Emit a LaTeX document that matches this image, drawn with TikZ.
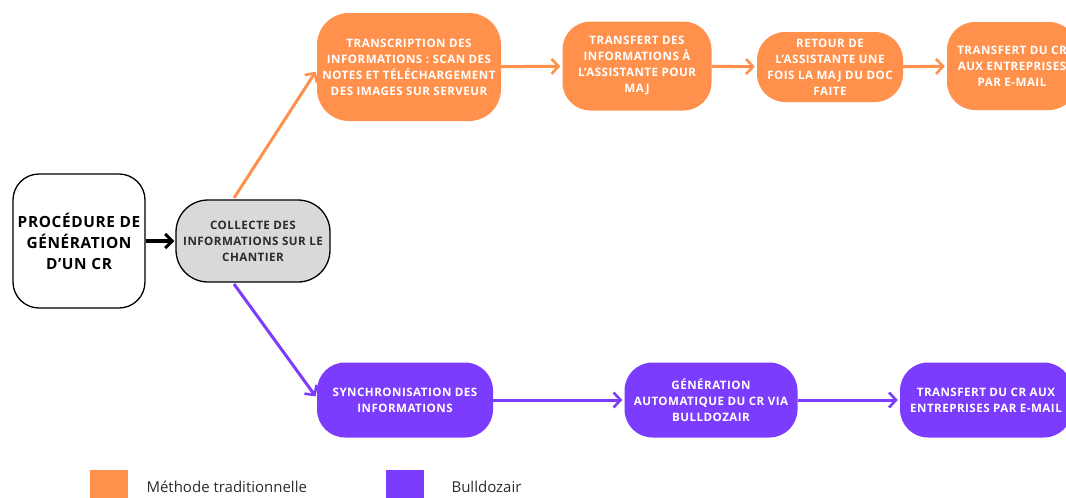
\documentclass[tikz,border=0pt]{standalone}
\usepackage{fontspec}
\setmainfont{Open Sans}
\newfontfamily\boxfont[LetterSpace=4]{Open Sans}
\usepackage{tikz}
\usetikzlibrary{arrows.meta, positioning}

\definecolor{tradorange}{HTML}{FF914D}
\definecolor{bullpurple}{HTML}{7B3CFD}
\definecolor{collectgray}{HTML}{D9D9D9}
\definecolor{darktext}{HTML}{2B2B2B}

\begin{document}
\begin{tikzpicture}[x=1pt, y=-1pt,
    step box/.style={rounded corners=28pt, inner sep=0pt, align=center,
        font=\boxfont\fontsize{11.6}{16}\selectfont\bfseries},
    trad/.style={step box, fill=tradorange, text=white},
    bull/.style={step box, fill=bullpurple, text=white},
    tradarrow/.style={-{Straight Barb[length=7pt, width=15pt, line width=2.6pt]}, line width=3pt, tradorange, shorten >=2pt},
    bullarrow/.style={-{Straight Barb[length=7pt, width=15pt, line width=2.6pt]}, line width=3pt, bullpurple, shorten >=2pt},
    legend/.style={font=\fontsize{15}{17}\selectfont, anchor=west, text=darktext}
]
\useasboundingbox (0,0) rectangle (1066,498);

% Start and common step
\node[step box, draw=black, line width=1.3pt, fill=white, rounded corners=26pt,
      minimum width=132pt, minimum height=134pt,
      font=\boxfont\fontsize{15.4}{21}\selectfont\bfseries] (proc) at (79,241)
      {PROCÉDURE DE\\GÉNÉRATION\\D’UN CR};
\node[step box, draw=black, line width=1.3pt, fill=collectgray, text=darktext, rounded corners=32pt,
      minimum width=154pt, minimum height=82pt] (collecte) at (253,241)
      {COLLECTE DES\\INFORMATIONS SUR LE\\CHANTIER};

% Traditional method
\node[trad, minimum width=184pt, minimum height=108pt, rounded corners=32pt] (transcription) at (409,67)
      {TRANSCRIPTION DES\\INFORMATIONS : SCAN DES\\NOTES ET TÉLÉCHARGEMENT\\DES IMAGES SUR SERVEUR};
\node[trad, minimum width=149pt, minimum height=89pt] (assistante) at (637,66)
      {TRANSFERT DES\\INFORMATIONS À\\L’ASSISTANTE POUR\\MAJ};
\node[trad, minimum width=146pt, minimum height=70pt] (retour) at (830,67)
      {RETOUR DE\\L’ASSISTANTE UNE\\FOIS LA MAJ DU DOC\\FAITE};
\node[trad, minimum width=130pt, minimum height=88pt] (envoitrad) at (1012,66)
      {TRANSFERT DU CR\\AUX ENTREPRISES\\PAR E-MAIL};

% Bulldozair
\node[bull, minimum width=176pt, minimum height=75pt] (synchro) at (405,400)
      {SYNCHRONISATION DES\\INFORMATIONS};
\node[bull, minimum width=173pt, minimum height=75pt] (generation) at (711,400)
      {GÉNÉRATION\\AUTOMATIQUE DU CR VIA\\BULLDOZAIR};
\node[bull, minimum width=172pt, minimum height=75pt] (envoibull) at (986,400)
      {TRANSFERT DU CR AUX\\ENTREPRISES PAR E-MAIL};

% Connectors
\draw[-{Straight Barb[length=7pt, width=14pt, line width=3pt]}, line width=3.6pt, shorten >=1pt] (proc) -- (collecte);

\draw[tradarrow] (234,198) -- (transcription.west |- 0,70);
\draw[tradarrow] (transcription) -- (assistante);
\draw[tradarrow] (assistante) -- (retour);
\draw[tradarrow] (retour) -- (envoitrad);

\draw[bullarrow] (234,284) -- (synchro.west |- 0,398);
\draw[bullarrow] (synchro) -- (generation);
\draw[bullarrow] (generation) -- (envoibull);

% Legend
\fill[tradorange] (90,470) rectangle (128,500);
\node[legend] (legtrad) at (143,487) {Méthode traditionnelle};
\fill[bullpurple] (386,470) rectangle (424,500);
\node[legend] (legbull) at (448,487) {Bulldozair};

\end{tikzpicture}
\end{document}
